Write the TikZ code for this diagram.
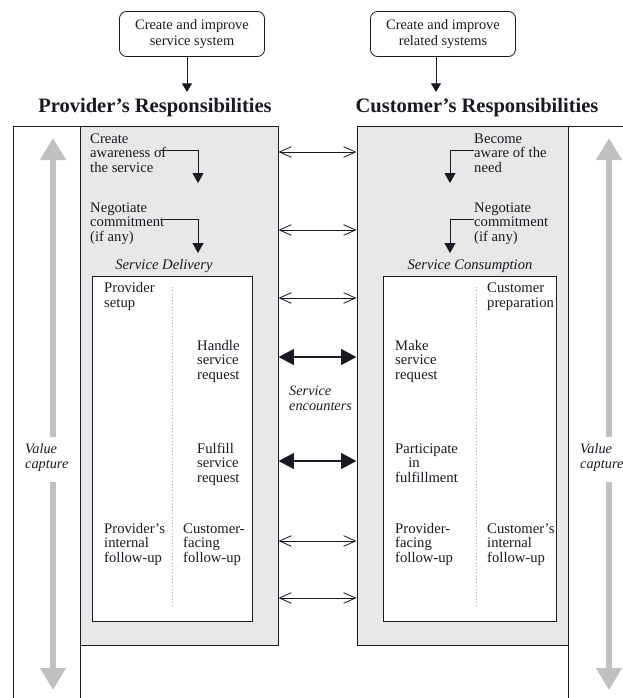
\documentclass[tikz,border=0pt]{standalone}
\usepackage{fontspec}
\setmainfont{Liberation Serif}
\usetikzlibrary{arrows.meta,positioning,fit}
\definecolor{ink}{RGB}{25,25,35}
\definecolor{zonegray}{RGB}{232,232,232}
\definecolor{capgray}{RGB}{192,192,192}
\definecolor{dotgray}{RGB}{170,170,170}
\tikzset{
  frame/.style={draw=ink,line width=0.8pt},
  sysbox/.style={draw=ink,line width=0.7pt,rounded corners=6pt,minimum width=4.35cm,
    minimum height=1.35cm,align=center,font=\fontsize{12.3}{13}\selectfont,text=ink},
  resp/.style={font=\fontsize{17.5}{20}\selectfont\bfseries,text=ink},
  zone/.style={frame,fill=zonegray,inner sep=0pt},
  lane/.style={frame,fill=white,inner sep=0pt},
  divider/.style={dotgray,dotted,line width=0.8pt},
  % base of a text = baseline of its last line
  steptext/.style={anchor=base west,inner sep=0pt,align=left,
    font=\fontsize{12.5}{12}\selectfont,text=ink},
  phase/.style={anchor=base,inner sep=0pt,font=\fontsize{12.5}{12}\selectfont\itshape,text=ink},
  note/.style={anchor=base west,inner sep=0pt,align=left,
    font=\fontsize{12.2}{12.5}\selectfont\itshape,text=ink},
  down/.style={ink,line width=0.8pt,-{Triangle[length=2.6mm,width=3mm]}},
  flowstep/.style={ink,line width=0.7pt,-{Triangle[length=3mm,width=3.3mm]}},
  link/.style={ink,line width=0.7pt,
    {Straight Barb[length=3.6mm,width=3.2mm]}-{Straight Barb[length=3.6mm,width=3.2mm]}},
  encounter/.style={ink,line width=2.4pt,
    {Triangle[length=4.6mm,width=4.6mm]}-{Triangle[length=4.6mm,width=4.6mm]}},
  capture/.style={capgray,line width=1.7mm,-{Triangle[length=6.6mm,width=7.4mm]}},
}
\begin{document}
\begin{tikzpicture}[x=0.03cm,y=-0.03cm]
  \useasboundingbox (0,0) rectangle (623,698);
  \clip (0,0) rectangle (623,698);
  % frames of the two sides
  \draw[frame] (13,710) -- (13,126) -- (80,126) -- (80,710);
  \draw[frame] (568,710) -- (568,126) -- (640,126);
  \node[zone,fit={(80,126)(278,645)}] (prov) {};
  \node[zone,fit={(357,126)(568,645)}] (cust) {};
  \node[lane,fit={(92,276)(252,621)}] (deliv) {};
  \node[lane,fit={(383,276)(556,621)}] (consum) {};
  \draw[divider] (172,287) -- (172,608);
  \draw[divider] (476,287) -- (476,608);

  % systems and responsibilities
  \node[sysbox] (provsys) at (192,34) {Create and improve\\service system};
  \node[sysbox] (custsys) at (443,34) {Create and improve\\related systems};
  \node[resp] (provresp) at (155,108) {Provider's Responsibilities};
  \node[resp] (custresp) at (477,108) {Customer's Responsibilities};
  \coordinate (provin) at (187,92);
  \coordinate (custin) at (436,92);
  \draw[down] (provsys.south -| provin) -- (provin);
  \draw[down] (custsys.south -| custin) -- (custin);

  % value capture
  \coordinate (vp1) at (53,437); \coordinate (vp2) at (53,138);
  \coordinate (vp3) at (53,482); \coordinate (vp4) at (53,690);
  \coordinate (vc1) at (609,437); \coordinate (vc2) at (609,138);
  \coordinate (vc3) at (609,482); \coordinate (vc4) at (609,690);
  \draw[capture] (vp1) -- (vp2); \draw[capture] (vp3) -- (vp4);
  \draw[capture] (vc1) -- (vc2); \draw[capture] (vc3) -- (vc4);
  \node[note] (valprov) at (25,468) {Value\\capture};
  \node[note] (valcust) at (580,468) {Value\\capture};

  % provider side
  \node[steptext] (aware) at (90,172) {Create\\awareness of\\the service};
  \node[steptext] (provneg) at (90,241) {Negotiate\\commitment\\(if any)};
  \coordinate (awareout) at (160,150); \coordinate (awarein) at (198,183);
  \coordinate (provnegout) at (160,219); \coordinate (provnegin) at (198,253);
  \draw[flowstep] (awareout) -| (awarein);
  \draw[flowstep] (provnegout) -| (provnegin);
  \node[phase] (delivery) at (164,269) {Service Delivery};
  \node[steptext] (setup) at (104,307) {Provider\\setup};
  \node[steptext] (handle) at (197,379) {Handle\\service\\request};
  \node[steptext] (fulfill) at (197,482) {Fulfill\\service\\request};
  \node[steptext] (provint) at (104,562) {Provider's\\internal\\follow-up};
  \node[steptext] (custfac) at (183,562) {Customer-\\facing\\follow-up};

  % customer side
  \node[steptext] (become) at (474,172) {Become\\aware of the\\need};
  \node[steptext] (custneg) at (474,241) {Negotiate\\commitment\\(if any)};
  \coordinate (becomein) at (450,183); \coordinate (custnegin) at (450,253);
  \draw[flowstep] (become.west |- 0,150) -| (becomein);
  \draw[flowstep] (custneg.west |- 0,219) -| (custnegin);
  \node[phase] (consumption) at (470,269) {Service Consumption};
  \node[steptext] (prep) at (487,307) {Customer\\preparation};
  \node[steptext] (make) at (395,379) {Make\\service\\request};
  \node[steptext] (partic) at (395,482) {Participate\\\hspace*{0.9em}in\\fulfillment};
  \node[steptext] (provfac) at (395,562) {Provider-\\facing\\follow-up};
  \node[steptext] (custint) at (487,562) {Customer's\\internal\\follow-up};

  % encounters
  \node[note] (encounters) at (289,410) {Service\\encounters};
  \foreach \y in {152,230,298,541,598}
    \draw[link] (prov.east |- 0,\y) -- (cust.west |- 0,\y);
  \foreach \y in {357,461}
    \draw[encounter] (prov.east |- 0,\y) -- (cust.west |- 0,\y);
\end{tikzpicture}
\end{document}
